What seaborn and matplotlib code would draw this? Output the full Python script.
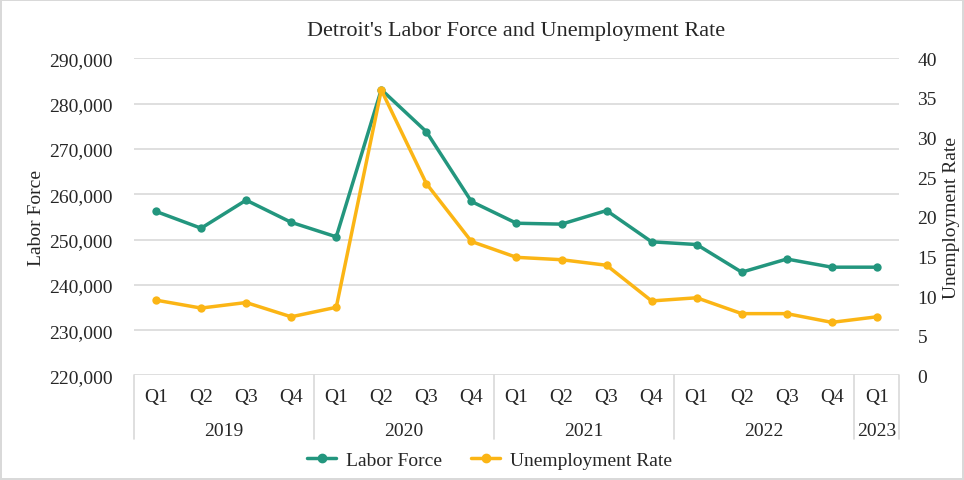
import matplotlib
matplotlib.use('Agg')
import matplotlib.pyplot as plt
import matplotlib.transforms as mtransforms
from matplotlib.lines import Line2D
import seaborn as sns
import pandas as pd

# Data
quarters = ['Q1', 'Q2', 'Q3', 'Q4'] * 4 + ['Q1']
years = ['2019', '2020', '2021', '2022', '2023']
labor_force = [256200, 252500, 258700, 253800,
               250600, 283100, 273800, 258400,
               253600, 253400, 256400, 249500,
               248900, 242800, 245700, 243900,
               243900]
unemployment = [9.5, 8.5, 9.2, 7.4,
                8.6, 36.0, 24.2, 16.9,
                14.9, 14.6, 13.9, 9.4,
                9.8, 7.8, 7.8, 6.7,
                7.4]

GREEN = '#23967e'
YELLOW = '#fbb515'
GRID = '#d9d9d9'
TEXT = '#262626'
FS = 14

sns.set_style('white')
plt.rcParams['font.family'] = ['Liberation Serif', 'DejaVu Serif']

df = pd.DataFrame({
    'idx': range(len(quarters)),
    'quarter': quarters,
    'labor_force': labor_force,
    'unemployment': unemployment,
})

fig = plt.figure(figsize=(9.64, 4.81), dpi=100)
fig.patch.set_edgecolor('#d9d9d9')
fig.patch.set_linewidth(1.5)
ax = fig.add_axes([0.1385, 0.2173, 0.7945, 0.6594])
ax2 = ax.twinx()

sns.lineplot(data=df, x='idx', y='labor_force', ax=ax, color=GREEN,
             linewidth=2.5, marker='o', markersize=6, markeredgewidth=0)
sns.lineplot(data=df, x='idx', y='unemployment', ax=ax2, color=YELLOW,
             linewidth=2.5, marker='o', markersize=6, markeredgewidth=0)

ax.set_xlim(-0.5, len(quarters) - 0.5)
ax.set_ylim(220000, 290000)
ax.set_yticks(range(220000, 290001, 10000))
ax.set_yticklabels([f'{v:,}' for v in range(220000, 290001, 10000)])
ax2.set_ylim(0, 40)
ax2.set_yticks(range(0, 41, 5))

ax.grid(axis='y', color=GRID, linewidth=1.2)
ax.set_axisbelow(True)
ax2.set_zorder(ax.get_zorder() + 1)
ax2.patch.set_visible(False)

for a in (ax, ax2):
    for s in a.spines.values():
        s.set_visible(False)
    a.tick_params(axis='both', length=0, labelsize=FS, colors=TEXT)

ax.tick_params(axis='y', pad=15)
ax2.tick_params(axis='y', pad=13)
ax.set_xticks([])
ax.set_xlabel('')
ax.set_ylabel('Labor Force', fontsize=FS, color=TEXT, labelpad=3)
ax2.set_ylabel('Unemployment Rate', fontsize=FS, color=TEXT, labelpad=4)

# multi-level category axis
trans = mtransforms.blended_transform_factory(ax.transData, ax.transAxes)
for i, q in enumerate(quarters):
    ax.text(i, -0.065, q, transform=trans, ha='center', va='center',
            fontsize=FS, color=TEXT)
year_pos = [1.5, 5.5, 9.5, 13.5, 16]
for x, y in zip(year_pos, years):
    ax.text(x, -0.172, y, transform=trans, ha='center', va='center',
            fontsize=FS, color=TEXT)
for x in [-0.5, 3.5, 7.5, 11.5, 15.5, 16.5]:
    ax.add_line(Line2D([x, x], [0, -0.2], transform=trans, color=GRID,
                       linewidth=1.2, clip_on=False))

ax.set_title("Detroit's Labor Force and Unemployment Rate", fontsize=16,
             color=TEXT, pad=17)

handles = [Line2D([], [], color=GREEN, linewidth=2.5, marker='o', markersize=6),
           Line2D([], [], color=YELLOW, linewidth=2.5, marker='o', markersize=6)]
fig.legend(handles, ['Labor Force', 'Unemployment Rate'], loc='center',
           bbox_to_anchor=(0.508, 0.042), ncol=2, frameon=False,
           fontsize=FS, handlelength=1.5, columnspacing=1.5, handletextpad=0.5)

fig.savefig('out.png', dpi=100)
